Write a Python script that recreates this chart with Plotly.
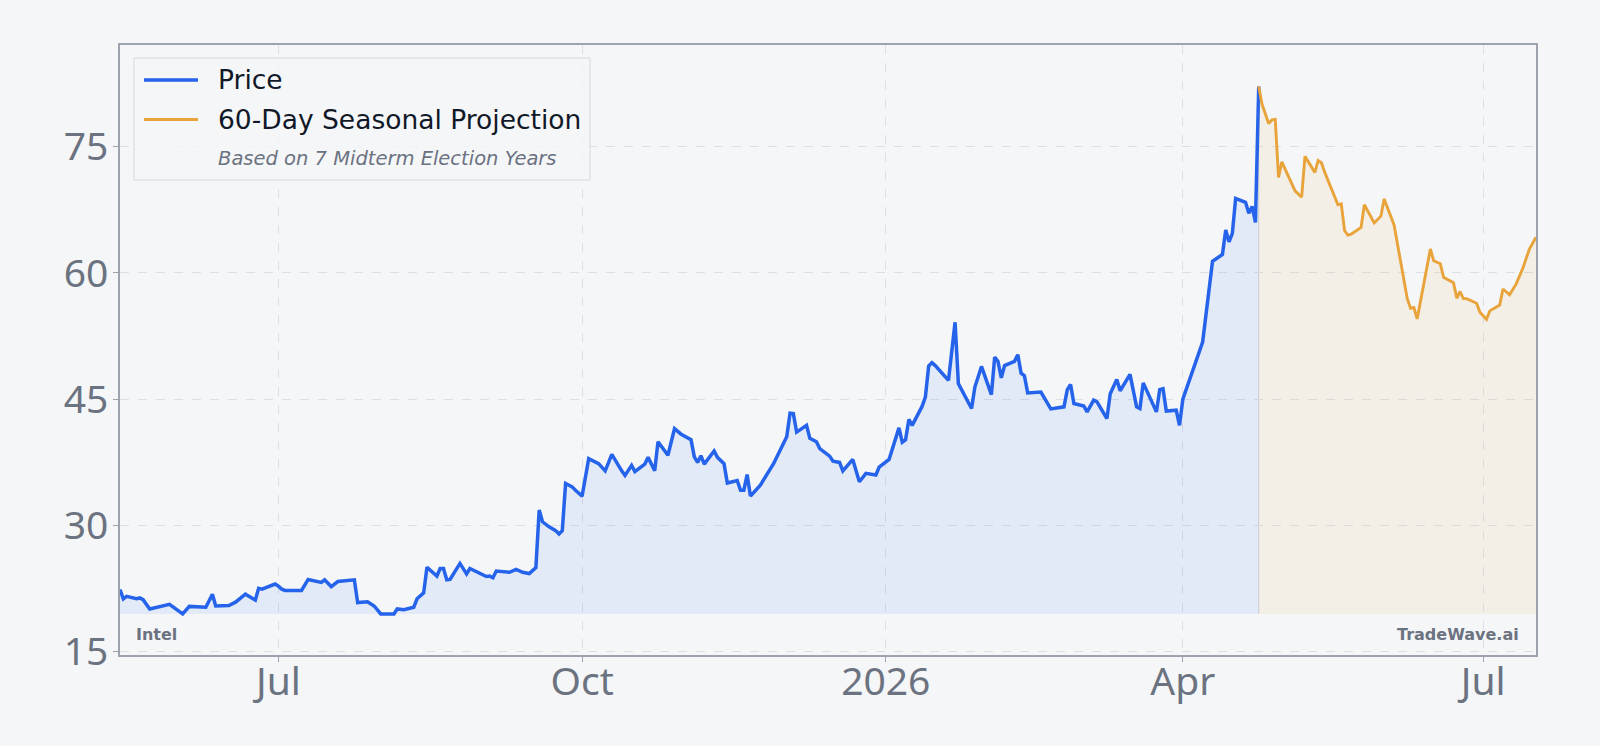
import plotly.graph_objects as go

# ---------------- data ----------------
price_dates = [
    "2025-05-14", "2025-05-15", "2025-05-16", "2025-05-19", "2025-05-20", "2025-05-21", "2025-05-23",
    "2025-05-29", "2025-06-02", "2025-06-04", "2025-06-09", "2025-06-11", "2025-06-12", "2025-06-16",
    "2025-06-18", "2025-06-21", "2025-06-24", "2025-06-25", "2025-06-26", "2025-06-30", "2025-07-01",
    "2025-07-02", "2025-07-03", "2025-07-08", "2025-07-10", "2025-07-14", "2025-07-15", "2025-07-17",
    "2025-07-19", "2025-07-22", "2025-07-24", "2025-07-25", "2025-07-28", "2025-07-30", "2025-08-01",
    "2025-08-05", "2025-08-06", "2025-08-08", "2025-08-11", "2025-08-12", "2025-08-14", "2025-08-15",
    "2025-08-18", "2025-08-19", "2025-08-20", "2025-08-21", "2025-08-22", "2025-08-25", "2025-08-27",
    "2025-08-28", "2025-08-30", "2025-09-02", "2025-09-03", "2025-09-04", "2025-09-05", "2025-09-07",
    "2025-09-09", "2025-09-11", "2025-09-13", "2025-09-15", "2025-09-17", "2025-09-18", "2025-09-19",
    "2025-09-21", "2025-09-23", "2025-09-24", "2025-09-25", "2025-09-26", "2025-09-28", "2025-09-29",
    "2025-10-01", "2025-10-03", "2025-10-06", "2025-10-08", "2025-10-10", "2025-10-13", "2025-10-14",
    "2025-10-16", "2025-10-17", "2025-10-20", "2025-10-21", "2025-10-23", "2025-10-24", "2025-10-27",
    "2025-10-29", "2025-10-31", "2025-11-03", "2025-11-04", "2025-11-05", "2025-11-06", "2025-11-07",
    "2025-11-10", "2025-11-11", "2025-11-13", "2025-11-14", "2025-11-17", "2025-11-18", "2025-11-19",
    "2025-11-20", "2025-11-21", "2025-11-24", "2025-11-28", "2025-12-02", "2025-12-03", "2025-12-04",
    "2025-12-05", "2025-12-08", "2025-12-09", "2025-12-11", "2025-12-12", "2025-12-15", "2025-12-16",
    "2025-12-18", "2025-12-19", "2025-12-22", "2025-12-24", "2025-12-26", "2025-12-29", "2025-12-30",
    "2026-01-02", "2026-01-05", "2026-01-06", "2026-01-07", "2026-01-08", "2026-01-09", "2026-01-12",
    "2026-01-13", "2026-01-14", "2026-01-15", "2026-01-16", "2026-01-20", "2026-01-22", "2026-01-23",
    "2026-01-27", "2026-01-28", "2026-01-30", "2026-02-02", "2026-02-03", "2026-02-04", "2026-02-05",
    "2026-02-06", "2026-02-09", "2026-02-10", "2026-02-11", "2026-02-12", "2026-02-13", "2026-02-17",
    "2026-02-20", "2026-02-24", "2026-02-25", "2026-02-26", "2026-02-27", "2026-03-02", "2026-03-03",
    "2026-03-05", "2026-03-06", "2026-03-09", "2026-03-10", "2026-03-12", "2026-03-13", "2026-03-16",
    "2026-03-18", "2026-03-19", "2026-03-20", "2026-03-24", "2026-03-25", "2026-03-26", "2026-03-27",
    "2026-03-30", "2026-03-31", "2026-04-01", "2026-04-07", "2026-04-10", "2026-04-13", "2026-04-14",
    "2026-04-15", "2026-04-16", "2026-04-17", "2026-04-20", "2026-04-21", "2026-04-22", "2026-04-23",
    "2026-04-24",
]
price_values = [
    22.4, 21.3, 21.6, 21.3, 21.4, 21.2, 20.1,
    20.65, 19.5, 20.4, 20.3, 21.85, 20.45, 20.5,
    20.9, 21.85, 21.15, 22.55, 22.45, 23.05, 22.8,
    22.45, 22.3, 22.3, 23.6, 23.25, 23.55, 22.75,
    23.35, 23.45, 23.55, 20.85, 20.95, 20.45, 19.5,
    19.5, 20.1, 20.0, 20.3, 21.3, 22.0, 25.05,
    24.0, 24.9, 24.9, 23.55, 23.6, 25.5, 24.25,
    24.9, 24.5, 23.95, 24.0, 23.8, 24.6, 24.5,
    24.45, 24.8, 24.45, 24.3, 25.0, 31.85, 30.45,
    29.85, 29.4, 29.0, 29.4, 35.0, 34.6, 34.2,
    33.5, 37.95, 37.35, 36.5, 38.45, 36.5, 35.95,
    37.15, 36.4, 37.3, 38.1, 36.5, 39.95, 38.35,
    41.5, 40.85, 40.2, 38.15, 37.5, 38.3, 37.3,
    38.85, 38.1, 37.35, 35.05, 35.35, 34.2, 34.2,
    36.05, 33.5, 34.8, 37.35, 40.55, 43.35, 43.3,
    41.1, 41.9, 40.35, 39.95, 39.15, 38.25, 37.65,
    37.5, 36.5, 37.85, 35.2, 36.2, 36.0, 36.95,
    37.85, 41.6, 39.9, 40.2, 42.6, 41.9, 44.15,
    45.25, 48.95, 49.35, 49.0, 47.25, 54.15, 46.85,
    43.9, 46.45, 48.9, 45.55, 50.0, 49.5, 47.55,
    49.0, 49.5, 50.3, 48.1, 47.8, 45.75, 45.85,
    43.85, 44.1, 46.15, 46.75, 44.5, 44.2, 43.5,
    44.9, 44.7, 42.7, 45.65, 47.35, 46.0, 47.95,
    44.1, 43.9, 46.95, 43.5, 46.15, 46.25, 43.6,
    43.7, 41.9, 45.0, 51.8, 61.4, 62.2, 65.1,
    63.7, 64.7, 68.85, 68.4, 67.1, 67.9, 66.0,
    82.15,
]

proj_dates = [
    "2026-04-24", "2026-04-25", "2026-04-27", "2026-04-28", "2026-04-29", "2026-04-30", "2026-05-01",
    "2026-05-04", "2026-05-05", "2026-05-07", "2026-05-08", "2026-05-11", "2026-05-12", "2026-05-13",
    "2026-05-14", "2026-05-18", "2026-05-19", "2026-05-20", "2026-05-21", "2026-05-22", "2026-05-25",
    "2026-05-26", "2026-05-29", "2026-05-31", "2026-06-01", "2026-06-04", "2026-06-08", "2026-06-09",
    "2026-06-10", "2026-06-11", "2026-06-15", "2026-06-16", "2026-06-18", "2026-06-19", "2026-06-22",
    "2026-06-23", "2026-06-24", "2026-06-25", "2026-06-26", "2026-06-29", "2026-06-30", "2026-07-02",
    "2026-07-03", "2026-07-06", "2026-07-07", "2026-07-09", "2026-07-11", "2026-07-13", "2026-07-15",
    "2026-07-17",
]
proj_values = [
    82.15, 80.05, 77.75, 78.2, 78.25, 71.35, 73.2,
    70.55, 69.75, 69.0, 73.85, 71.95, 73.35, 73.1,
    71.95, 68.1, 68.2, 65.05, 64.5, 64.6, 65.4,
    68.1, 65.95, 66.75, 68.8, 65.7, 56.95, 55.8,
    55.9, 54.55, 62.85, 61.45, 61.1, 59.5, 58.85,
    57.0, 57.8, 56.95, 56.95, 56.4, 55.35, 54.5,
    55.5, 56.2, 58.1, 57.4, 58.7, 60.55, 62.85,
    64.25,
]

x_tick_dates = ["2025-07-01", "2025-10-01", "2026-01-01", "2026-04-01", "2026-07-01"]
x_tick_labels = ["Jul", "Oct", "2026", "Apr", "Jul"]
y_tick_values = [15, 30, 45, 60, 75]

series_names = ["Price", "60-Day Seasonal Projection"]
legend_note = "Based on 7 Midterm Election Years"
ticker_label = "Intel"
brand_label = "TradeWave.ai"

# ---------------- styling ----------------
W, H = 1600, 746
ML, MR, MT, MB = 120, 64, 45, 91
PW, PH = W - ML - MR, H - MT - MB
BG = "#f5f6f8"
BLUE = "#2563eb"
ORANGE = "#e8a33a"
GRID = "#dcdfe4"
AXIS = "#9ca3af"
TICK_TXT = "#6b7280"


def px(x):
    return (x - ML) / PW


def py(y):
    return (MT + PH - y) / PH


base = min(price_values)
ymax = max(price_values + proj_values)

fig = go.Figure()
fig.add_trace(go.Scatter(x=price_dates, y=[base] * len(price_dates), mode="lines",
                         line=dict(width=0, color="rgba(0,0,0,0)"), showlegend=False, hoverinfo="skip"))
fig.add_trace(go.Scatter(x=price_dates, y=price_values, mode="lines", name=series_names[0],
                         line=dict(color=BLUE, width=3.5), fill="tonexty",
                         fillcolor="rgba(59,130,246,0.1)", showlegend=False))
fig.add_trace(go.Scatter(x=proj_dates, y=[base] * len(proj_dates), mode="lines",
                         line=dict(width=0, color="rgba(0,0,0,0)"), showlegend=False, hoverinfo="skip"))
fig.add_trace(go.Scatter(x=proj_dates, y=proj_values, mode="lines", name=series_names[1],
                         line=dict(color=ORANGE, width=2.9), fill="tonexty",
                         fillcolor="rgba(232,163,58,0.09)", showlegend=False))

shapes = [
    dict(type="line", xref="x", yref="y", x0=proj_dates[0], x1=proj_dates[0], y0=base, y1=proj_values[0],
         line=dict(color="rgba(190,190,190,0.6)", width=1), layer="below"),
    # custom legend box
    dict(type="rect", xref="paper", yref="paper", x0=px(134), x1=px(590), y0=py(58), y1=py(180),
         line=dict(color="#d6d9de", width=1), fillcolor="rgba(245,246,248,0.85)", layer="above"),
    dict(type="line", xref="paper", yref="paper", x0=px(144), x1=px(198), y0=py(80), y1=py(80),
         line=dict(color=BLUE, width=3.5), layer="above"),
    dict(type="line", xref="paper", yref="paper", x0=px(144), x1=px(198), y0=py(119.5), y1=py(119.5),
         line=dict(color=ORANGE, width=2.9), layer="above"),
]

LEG_FONT = "DejaVu Sans"
annotations = [
    dict(text=series_names[0], x=px(216), y=py(80), xanchor="left", yanchor="middle",
         font=dict(family=LEG_FONT, size=26.5, color="#111827")),
    dict(text=series_names[1], x=px(216), y=py(119.5), xanchor="left", yanchor="middle",
         font=dict(family=LEG_FONT, size=26.5, color="#111827")),
    dict(text="<i>" + legend_note + "</i>", x=px(216), y=py(158), xanchor="left", yanchor="middle",
         font=dict(family=LEG_FONT, size=19.5, color="#6b7280")),
    dict(text="<b>" + ticker_label + "</b>", x=px(134), y=py(634), xanchor="left", yanchor="middle",
         font=dict(family=LEG_FONT, size=16, color="#6b7280")),
    dict(text="<b>" + brand_label + "</b>", x=px(1521), y=py(634), xanchor="right", yanchor="middle",
         font=dict(family=LEG_FONT, size=16, color="#6b7280")),
]
for a in annotations:
    a.update(xref="paper", yref="paper", showarrow=False)

tickfont = dict(family="Noto Sans", size=39, color=TICK_TXT)
fig.update_layout(
    width=W, height=H, margin=dict(l=ML, r=MR, t=MT, b=MB, pad=0),
    paper_bgcolor=BG, plot_bgcolor=BG, showlegend=False,
    shapes=shapes, annotations=annotations,
    xaxis=dict(type="date", range=[price_dates[0], proj_dates[-1]],
               tickmode="array", tickvals=x_tick_dates, ticktext=x_tick_labels,
               showgrid=True, gridcolor=GRID, griddash="dash", gridwidth=1,
               showline=True, linecolor=AXIS, linewidth=1.5, mirror=True,
               ticks="outside", ticklen=5, tickcolor=AXIS, tickwidth=1,
               ticklabelstandoff=-14,
               tickfont=tickfont, zeroline=False),
    yaxis=dict(range=[base * 0.75, ymax * 1.06], tickmode="array", tickvals=y_tick_values,
               showgrid=True, gridcolor=GRID, griddash="dash", gridwidth=1,
               showline=True, linecolor=AXIS, linewidth=1.5, mirror=True,
               ticks="outside", ticklen=5, tickcolor=AXIS, tickwidth=1,
               ticklabelstandoff=-3,
               tickfont=tickfont, zeroline=False),
)

fig.write_html("out.html", post_script="document.body.style.margin='0';")
